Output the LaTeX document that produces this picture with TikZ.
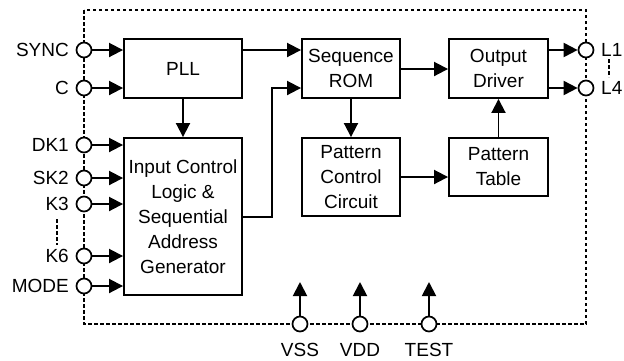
\documentclass[tikz,border=0pt]{standalone}
\usepackage{fontspec}
\setmainfont{Liberation Sans}
\usetikzlibrary{arrows.meta}
\begin{document}
\begin{tikzpicture}[x=1pt,y=-1pt,
  every node/.style={font=\fontsize{19}{25}\selectfont},
  blk/.style={draw,line width=1.9pt,rectangle,align=center,inner sep=0pt},
  pin/.style={draw,line width=1.7pt,circle,fill=white,minimum size=15pt,inner sep=0pt},
  arr/.style={line width=1.9pt,-{Triangle[length=14pt,width=14pt]}},
  dsh/.style={line width=1.6pt,dash pattern=on 3.5pt off 2.5pt},
  lbl/.style={inner sep=0pt}]
\useasboundingbox (0,0) rectangle (624,360);
% border
\draw[dsh] (84,10) rectangle (586,324);
% blocks
\node[blk,minimum width=118pt,minimum height=59pt] (pll) at (183,68.5) {PLL};
\node[blk,minimum width=118pt,minimum height=157pt] (icl) at (183,216.5) {Input Control\\Logic \&\\Sequential\\Address\\Generator};
\node[blk,minimum width=98pt,minimum height=59pt] (rom) at (351,68.5) {Sequence\\ROM};
\node[blk,minimum width=99pt,minimum height=59pt] (drv) at (498.5,68.5) {Output\\Driver};
\node[blk,minimum width=98pt,minimum height=78pt] (pcc) at (351,177) {Pattern\\Control\\Circuit};
\node[blk,minimum width=99pt,minimum height=58pt] (ptab) at (498.5,167) {Pattern\\Table};
% left pins
\node[pin] (sync) at (84,50) {};
\node[pin] (c) at (84,88) {};
\node[pin] (dk1) at (84,145) {};
\node[pin] (sk2) at (84,178) {};
\node[pin] (k3) at (84,204) {};
\node[pin] (k6) at (84,256) {};
\node[pin] (mode) at (84,286) {};
\node[lbl,anchor=east] (tsync) at (69,50) {SYNC};
\node[lbl,anchor=east] (tc) at (69,88) {C};
\node[lbl,anchor=east] (tdk1) at (69,145) {DK1};
\node[lbl,anchor=east] (tsk2) at (69,178) {SK2};
\node[lbl,anchor=east] (tk3) at (69,204) {K3};
\node[lbl,anchor=east] (tk6) at (69,256) {K6};
\node[lbl,anchor=east] (tmode) at (69,286) {MODE};
\coordinate (k3d) at (57,219);
\coordinate (k6d) at (57,245);
\draw[dsh] (k3d) -- (k6d);
% right pins
\node[pin] (l1) at (586,50) {};
\node[pin] (l4) at (586,88) {};
\node[lbl,anchor=west] (tl1) at (601,50) {L1};
\node[lbl,anchor=west] (tl4) at (601,88) {L4};
\coordinate (l1d) at (609,59);
\coordinate (l4d) at (609,77);
\draw[dsh] (l1d) -- (l4d);
% bottom pins
\node[pin] (vss) at (300,324) {};
\node[pin] (vdd) at (360,324) {};
\node[pin] (test) at (429,324) {};
\node[lbl,anchor=base] (tvss) at (300,356.5) {VSS};
\node[lbl,anchor=base] (tvdd) at (360,356.5) {VDD};
\node[lbl,anchor=base] (ttest) at (429,356.5) {TEST};
\coordinate (vssa) at (300,282);
\coordinate (vdda) at (360,282);
\coordinate (testa) at (429,282);
\draw[arr] (vss) -- (vssa);
\draw[arr] (vdd) -- (vdda);
\draw[arr] (test) -- (testa);
% input arrows
\draw[arr] (sync) -- (sync -| pll.west);
\draw[arr] (c) -- (c -| pll.west);
\draw[arr] (dk1) -- (dk1 -| icl.west);
\draw[arr] (sk2) -- (sk2 -| icl.west);
\draw[arr] (k3) -- (k3 -| icl.west);
\draw[arr] (k6) -- (k6 -| icl.west);
\draw[arr] (mode) -- (mode -| icl.west);
% internal
\draw[arr] (pll.east |- 0,50) -- (rom.west |- 0,50);
\draw[arr] (pll) -- (icl);
\draw[arr] (icl.east |- 0,217) -- (272,217) -- (272,88) -- (rom.west |- 0,88);
\draw[arr] (rom.east |- 0,69) -- (drv.west |- 0,69);
\draw[arr] (rom) -- (pcc);
\draw[arr] (pcc.east |- 0,177) -- (ptab.west |- 0,177);
\draw[arr] (ptab) -- (drv);
\draw[arr] (drv.east |- l1) -- (l1);
\draw[arr] (drv.east |- l4) -- (l4);
\end{tikzpicture}
\end{document}
